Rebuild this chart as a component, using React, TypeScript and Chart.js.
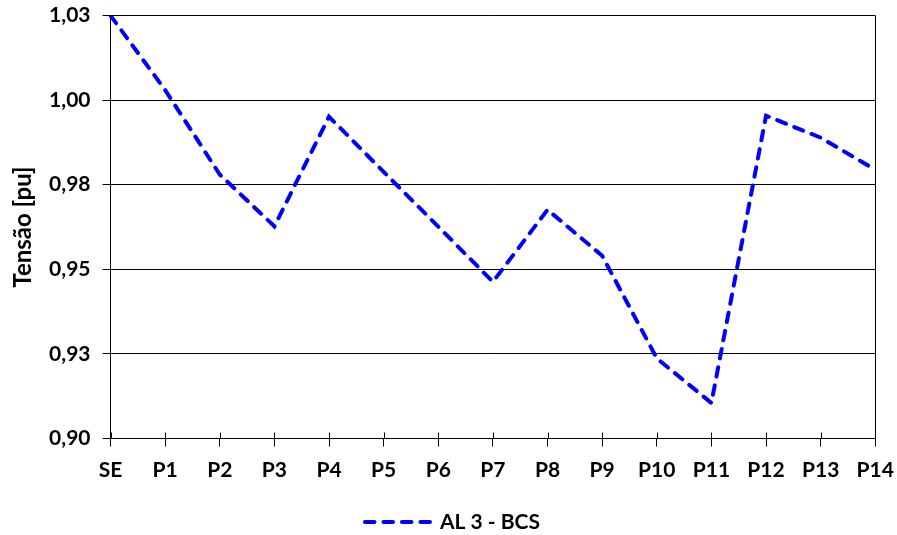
import React, { useEffect, useRef } from 'react';
import { Chart, registerables } from 'chart.js';

Chart.register(...registerables);

const categories = ['SE', 'P1', 'P2', 'P3', 'P4', 'P5', 'P6', 'P7', 'P8', 'P9', 'P10', 'P11', 'P12', 'P13', 'P14'];
const seriesLabel = 'AL 3 - BCS';
const tensao = [1.025, 1.003, 0.978, 0.9627, 0.9951, 0.9788, 0.9626, 0.9463, 0.9676, 0.954, 0.9237, 0.9105, 0.9954, 0.9889, 0.9794];
const yMin = 0.9;
const yMax = 1.025;
const yStep = 0.025;
const yTitle = 'Tensão [pu]';

const FONT = 'Lato';
const FSIZE = 21;

function fmt(v: number): string {
  const m = Math.round(v * 1000);
  const c = Math.round(m / 10);
  return (c / 100).toFixed(2).replace('.', ',');
}

const innerTicks = {
  id: 'innerTicks',
  afterDatasetsDraw(chart: any) {
    const x = chart.scales.x;
    const area = chart.chartArea;
    const ctx = chart.ctx;
    ctx.save();
    ctx.strokeStyle = '#000';
    ctx.lineWidth = 1;
    ctx.beginPath();
    for (let i = 0; i < x.ticks.length; i++) {
      const px = Math.round(x.getPixelForTick(i)) + 0.5;
      ctx.moveTo(px, area.bottom - 6);
      ctx.lineTo(px, area.bottom);
    }
    ctx.stroke();
    ctx.restore();
  },
};

const dashedLegend = {
  id: 'dashedLegend',
  afterDraw(chart: any) {
    const ctx = chart.ctx;
    const ds = chart.data.datasets[0];
    const lineW = 72;
    const gap = 5;
    ctx.save();
    ctx.font = `bold ${FSIZE}px ${FONT}`;
    const tw = ctx.measureText(ds.label).width;
    const total = lineW + gap + tw;
    const cx = chart.width / 2 + 3;
    const x0 = cx - total / 2;
    const y = chart.height - 13;
    ctx.strokeStyle = ds.borderColor;
    ctx.lineWidth = ds.borderWidth;
    ctx.lineCap = 'round';
    ctx.setLineDash(ds.borderDash);
    ctx.beginPath();
    ctx.moveTo(x0 + 2, y);
    ctx.lineTo(x0 + lineW - 2, y);
    ctx.stroke();
    ctx.setLineDash([]);
    ctx.fillStyle = '#000';
    ctx.textAlign = 'left';
    ctx.textBaseline = 'middle';
    ctx.fillText(ds.label, x0 + lineW + gap, y);
    ctx.restore();
  },
};

export default function App() {
  const ref = useRef<HTMLCanvasElement | null>(null);

  useEffect(() => {
    if (!ref.current) return;
    const chart = new Chart(ref.current, {
      type: 'line',
      data: {
        labels: categories,
        datasets: [
          {
            label: seriesLabel,
            data: tensao,
            borderColor: '#0000FF',
            backgroundColor: '#0000FF',
            borderWidth: 4,
            borderDash: [9.5, 9],
            borderCapStyle: 'round',
            pointRadius: 0,
            tension: 0,
            fill: false,
          },
        ],
      },
      options: {
        responsive: false,
        animation: false,
        layout: { padding: { top: 15.5, right: 21.7, left: 0, bottom: 32 } },
        plugins: {
          tooltip: { enabled: false },
          legend: { display: false },
        },
        scales: {
          x: {
            type: 'category',
            offset: false,
            afterFit: (s: any) => {
              s.height = 64.5;
              s.paddingLeft = 0;
              s.paddingRight = 0;
            },
            grid: {
              display: true,
              drawOnChartArea: true,
              color: (c: any) => (c.index === categories.length - 1 ? '#000' : 'rgba(0,0,0,0)'),
              tickColor: '#000',
              tickLength: 8,
              lineWidth: 1,
            },
            border: { display: true, color: '#000', width: 1 },
            ticks: {
              color: '#000',
              padding: 11,
              maxRotation: 0,
              autoSkip: false,
              font: { family: FONT, size: FSIZE, weight: 'bold' },
            },
          },
          y: {
            min: yMin,
            max: yMax,
            afterFit: (s: any) => {
              s.width = 110.5;
              s.paddingTop = 0;
              s.paddingBottom = 0;
            },
            grid: {
              color: '#000',
              tickColor: '#000',
              tickLength: 8,
              lineWidth: 1,
            },
            border: { display: true, color: '#000', width: 1 },
            ticks: {
              stepSize: yStep,
              color: '#000',
              padding: 12,
              font: { family: FONT, size: FSIZE, weight: 'bold' },
              callback: (v: any) => fmt(Number(v)),
            },
            title: {
              display: true,
              text: yTitle,
              color: '#000',
              padding: { top: 9, bottom: 4 },
              font: { family: FONT, size: 24, weight: 'bold' },
            },
          },
        },
      },
      plugins: [innerTicks, dashedLegend],
    });
    return () => chart.destroy();
  }, []);

  return (
    <div style={{ position: 'absolute', left: 0, top: 0, width: 897, height: 535, overflow: 'hidden', background: '#fff' }}>
      <canvas ref={ref} width={897} height={535} style={{ display: 'block', width: 897, height: 535 }} />
    </div>
  );
}
